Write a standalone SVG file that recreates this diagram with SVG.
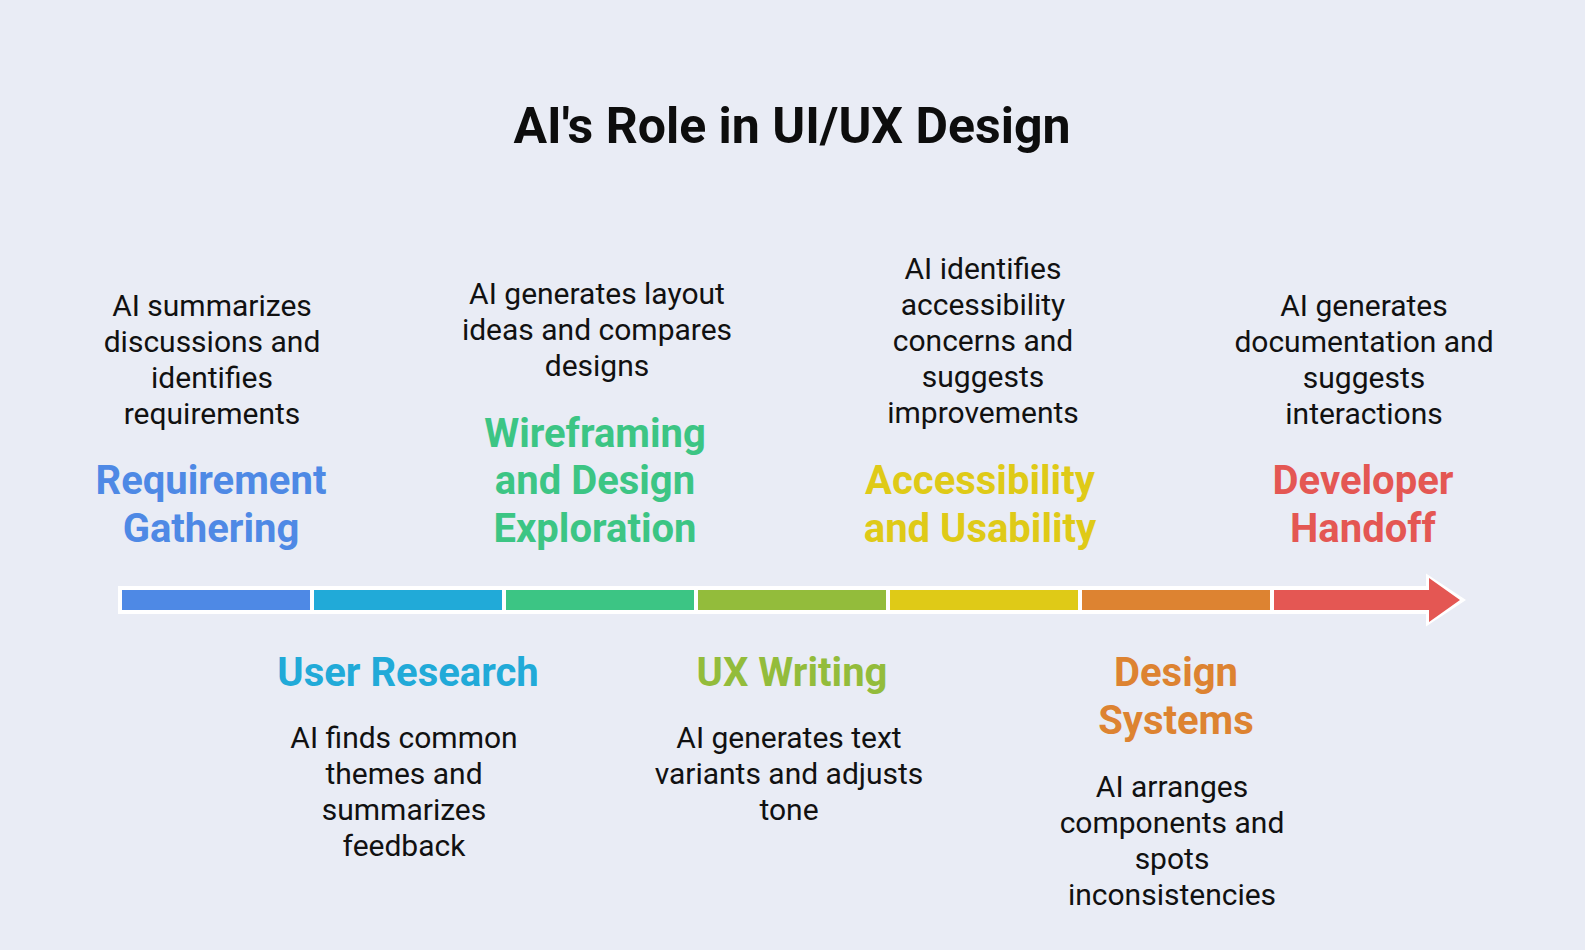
<svg xmlns="http://www.w3.org/2000/svg" width="1585" height="950" viewBox="0 0 1585 950">
<style>
.title{font-family:Roboto,"Liberation Sans",sans-serif;font-weight:700;font-size:50px;fill:#0d0d0d;text-anchor:middle}
.lbl{font-family:Roboto,"Liberation Sans",sans-serif;font-weight:700;font-size:40px;text-anchor:middle}
.desc{font-family:Roboto,"Liberation Sans",sans-serif;font-weight:400;font-size:30px;fill:#111111;text-anchor:middle}
</style>
<rect width="1585" height="950" fill="#E9ECF5"/>
<text class="title" x="792" y="143">AI's Role in UI/UX Design</text>
<g id="connectors">
<path d="M118,586 H1426 V573.5 L1466,600 L1426,626.5 V614 H118 Z" fill="#ffffff"/>
<rect x="122" y="590" width="188" height="20" fill="#4E89E5"/>
<rect x="314" y="590" width="188" height="20" fill="#21AAD8"/>
<rect x="506" y="590" width="188" height="20" fill="#3CC584"/>
<rect x="698" y="590" width="188" height="20" fill="#93BC3B"/>
<rect x="890" y="590" width="188" height="20" fill="#DFCA17"/>
<rect x="1082" y="590" width="188" height="20" fill="#DD8331"/>
<path d="M1274,590 H1429 V578 L1460,600 L1429,622 V610 H1274 Z" fill="#E45753"/>
</g>
<g id="requirement">
<text class="desc"><tspan x="212" y="316">AI summarizes</tspan><tspan x="212" y="352">discussions and</tspan><tspan x="212" y="388">identifies</tspan><tspan x="212" y="424">requirements</tspan></text>
<text class="lbl" fill="#4E89E5"><tspan x="211" y="494">Requirement</tspan><tspan x="211" y="542">Gathering</tspan></text>
</g>
<g id="user-research">
<text class="lbl" fill="#21AAD8"><tspan x="408" y="686">User Research</tspan></text>
<text class="desc"><tspan x="404" y="748">AI finds common</tspan><tspan x="404" y="784">themes and</tspan><tspan x="404" y="820">summarizes</tspan><tspan x="404" y="856">feedback</tspan></text>
</g>
<g id="wireframing">
<text class="desc"><tspan x="597" y="304">AI generates layout</tspan><tspan x="597" y="340">ideas and compares</tspan><tspan x="597" y="376">designs</tspan></text>
<text class="lbl" fill="#3CC584"><tspan x="595" y="447">Wireframing</tspan><tspan x="595" y="494">and Design</tspan><tspan x="595" y="542">Exploration</tspan></text>
</g>
<g id="ux-writing">
<text class="lbl" fill="#93BC3B"><tspan x="792" y="686">UX Writing</tspan></text>
<text class="desc"><tspan x="789" y="748">AI generates text</tspan><tspan x="789" y="784">variants and adjusts</tspan><tspan x="789" y="820">tone</tspan></text>
</g>
<g id="accessibility">
<text class="desc"><tspan x="983" y="279">AI identifies</tspan><tspan x="983" y="315">accessibility</tspan><tspan x="983" y="351">concerns and</tspan><tspan x="983" y="387">suggests</tspan><tspan x="983" y="423">improvements</tspan></text>
<text class="lbl" fill="#DFCA17"><tspan x="980" y="494">Accessibility</tspan><tspan x="980" y="542">and Usability</tspan></text>
</g>
<g id="design-systems">
<text class="lbl" fill="#DD8331"><tspan x="1176" y="686">Design</tspan><tspan x="1176" y="734">Systems</tspan></text>
<text class="desc"><tspan x="1172" y="797">AI arranges</tspan><tspan x="1172" y="833">components and</tspan><tspan x="1172" y="869">spots</tspan><tspan x="1172" y="905">inconsistencies</tspan></text>
</g>
<g id="developer-handoff">
<text class="desc"><tspan x="1364" y="316">AI generates</tspan><tspan x="1364" y="352">documentation and</tspan><tspan x="1364" y="388">suggests</tspan><tspan x="1364" y="424">interactions</tspan></text>
<text class="lbl" fill="#E45753"><tspan x="1363" y="494">Developer</tspan><tspan x="1363" y="542">Handoff</tspan></text>
</g>
</svg>
